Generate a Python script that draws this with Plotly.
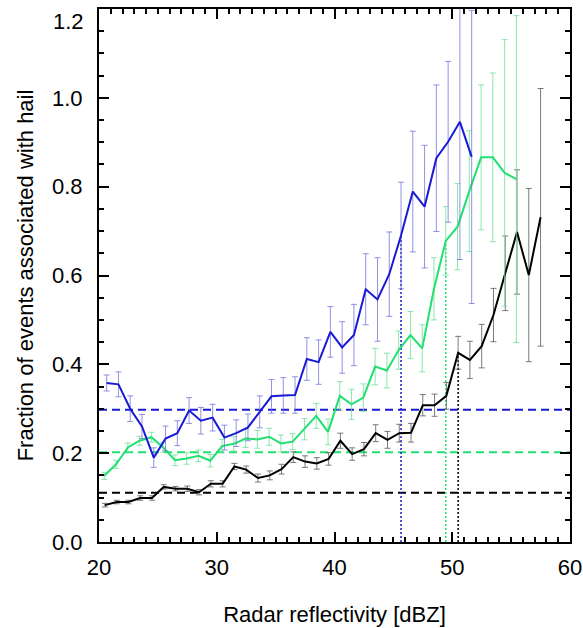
import plotly.graph_objects as go

# ---- data ----
x_black = [20.5, 21.5, 22.5, 23.5, 24.5, 25.5, 26.5, 27.5, 28.5, 29.5, 30.5, 31.5, 32.5, 33.5, 34.5,
           35.5, 36.5, 37.5, 38.5, 39.5, 40.5, 41.5, 42.5, 43.5, 44.5, 45.5, 46.5, 47.5, 48.5, 49.5,
           50.5, 51.5, 52.5, 53.5, 54.5, 55.5, 56.5, 57.5]
y_black = [0.083, 0.090, 0.090, 0.099, 0.099, 0.124, 0.120, 0.120, 0.112, 0.131, 0.131, 0.170, 0.163,
           0.144, 0.150, 0.164, 0.191, 0.181, 0.177, 0.187, 0.228, 0.198, 0.209, 0.245, 0.230, 0.245,
           0.246, 0.308, 0.308, 0.329, 0.426, 0.410, 0.441, 0.511, 0.605, 0.698, 0.601, 0.731]
e_black = [0.004, 0.004, 0.004, 0.005, 0.005, 0.005, 0.005, 0.006, 0.006, 0.007, 0.007, 0.007, 0.008,
           0.009, 0.010, 0.011, 0.012, 0.013, 0.013, 0.014, 0.017, 0.014, 0.015, 0.019, 0.019, 0.020,
           0.021, 0.024, 0.025, 0.030, 0.037, 0.042, 0.049, 0.060, 0.084, 0.140, 0.195, 0.290]

x_green = [20.45, 21.45, 22.45, 23.45, 24.45, 25.45, 26.45, 27.45, 28.45, 29.45, 30.45, 31.45, 32.45,
           33.45, 34.45, 35.45, 36.45, 37.45, 38.45, 39.45, 40.45, 41.45, 42.45, 43.45, 44.45, 45.45,
           46.45, 47.45, 48.45, 49.45, 50.45, 51.45, 52.45, 53.45, 54.45, 55.45]
y_green = [0.149, 0.175, 0.213, 0.228, 0.236, 0.213, 0.184, 0.188, 0.194, 0.183, 0.216, 0.221, 0.233,
           0.231, 0.237, 0.222, 0.226, 0.254, 0.284, 0.248, 0.329, 0.310, 0.325, 0.395, 0.386, 0.432,
           0.466, 0.436, 0.570, 0.678, 0.710, 0.790, 0.866, 0.866, 0.831, 0.817]
e_green = [0.008, 0.009, 0.010, 0.010, 0.011, 0.011, 0.012, 0.013, 0.013, 0.014, 0.015, 0.016, 0.020,
           0.020, 0.019, 0.019, 0.018, 0.024, 0.028, 0.029, 0.032, 0.034, 0.031, 0.041, 0.039, 0.043,
           0.053, 0.053, 0.070, 0.077, 0.097, 0.136, 0.163, 0.190, 0.300, 0.368]

x_blue = [20.65, 21.65, 22.65, 23.65, 24.65, 25.65, 26.65, 27.65, 28.65, 29.65, 30.65, 31.65, 32.65,
          33.65, 34.65, 35.65, 36.65, 37.65, 38.65, 39.65, 40.65, 41.65, 42.65, 43.65, 44.65, 45.65,
          46.65, 47.65, 48.65, 49.65, 50.65, 51.65]
y_blue = [0.358, 0.355, 0.300, 0.260, 0.190, 0.233, 0.245, 0.296, 0.273, 0.280, 0.235, 0.245, 0.258,
          0.293, 0.328, 0.330, 0.331, 0.412, 0.405, 0.473, 0.438, 0.466, 0.569, 0.546, 0.603, 0.690,
          0.789, 0.755, 0.864, 0.901, 0.946, 0.867]
e_blue = [0.018, 0.028, 0.029, 0.027, 0.022, 0.028, 0.028, 0.029, 0.030, 0.030, 0.028, 0.030, 0.030,
          0.036, 0.038, 0.040, 0.041, 0.048, 0.050, 0.057, 0.058, 0.069, 0.080, 0.094, 0.095, 0.120,
          0.136, 0.138, 0.165, 0.181, 0.310, 0.330]

# climatological reference levels (dashed)
base_blue = 0.298
base_green = 0.202
base_black = 0.111

# index of threshold crossing point (dotted verticals)
cross_blue = 25
cross_green = 29
cross_black = 30

x_ticks = [20, 30, 40, 50, 60]
y_ticks = [0.0, 0.2, 0.4, 0.6, 0.8, 1.0, 1.2]
X_RANGE = [20, 60]
Y_RANGE = [0, 1.2]

# ---- styles ----
C_BLUE = "#1a1ad6"
C_BLUE_E = "rgba(110,110,220,0.75)"
C_GREEN = "#22e070"
C_GREEN_E = "rgba(110,225,150,0.8)"
C_BLACK = "#000000"
C_BLACK_E = "rgba(90,90,90,0.8)"
FONT = "Liberation Sans, Arial, sans-serif"

fig = go.Figure()

# dashed horizontal levels
for lvl, col in [(base_blue, C_BLUE), (base_green, C_GREEN), (base_black, C_BLACK)]:
    fig.add_trace(go.Scatter(x=X_RANGE, y=[lvl, lvl], mode="lines",
                             line=dict(color=col, width=2, dash="8px,5px"),
                             hoverinfo="skip", showlegend=False))

# dotted verticals
for xs, ys, idx, col in [(x_blue, y_blue, cross_blue, C_BLUE),
                         (x_green, y_green, cross_green, C_GREEN),
                         (x_black, y_black, cross_black, C_BLACK)]:
    fig.add_trace(go.Scatter(x=[xs[idx], xs[idx]], y=[0, ys[idx]], mode="lines",
                             line=dict(color=col, width=1.5, dash="2px,2px"),
                             hoverinfo="skip", showlegend=False))

# series with error bars
for xs, ys, es, col, ecol in [(x_black, y_black, e_black, C_BLACK, C_BLACK_E),
                              (x_green, y_green, e_green, C_GREEN, C_GREEN_E),
                              (x_blue, y_blue, e_blue, C_BLUE, C_BLUE_E)]:
    fig.add_trace(go.Scatter(x=xs, y=ys, mode="lines",
                             line=dict(color=col, width=2),
                             error_y=dict(type="data", array=es, visible=True,
                                          color=ecol, thickness=1, width=3),
                             showlegend=False))

tick_common = dict(showline=True, linecolor="black", linewidth=2, mirror=False,
                   ticks="inside", ticklen=10, tickwidth=1.5, tickcolor="black",
                   showgrid=False, zeroline=False, automargin=False,
                   ticklabeloverflow="allow")

# the top label is drawn as an annotation just below its tick so it stays inside the page
y_ticktext = [f"{v:.1f}" if v < Y_RANGE[1] else "" for v in y_ticks]

fig.update_layout(
    width=583, height=628, margin=dict(l=99, r=13, t=9, b=86),
    plot_bgcolor="white", paper_bgcolor="white",
    xaxis=dict(range=X_RANGE, tickvals=x_ticks, ticktext=[str(v) for v in x_ticks],
               minor=dict(dtick=1, ticklen=5, tickwidth=1.5, tickcolor="black", ticks="inside"),
               tickfont=dict(family=FONT, size=22, color="black"),
               title=dict(text="Radar reflectivity [dBZ]", standoff=27,
                          font=dict(family=FONT, size=22, color="black")),
               ticklabelstandoff=5,
               **tick_common),
    yaxis=dict(range=Y_RANGE, tickvals=y_ticks, ticktext=y_ticktext,
               minor=dict(dtick=0.05, ticklen=5, tickwidth=1.5, tickcolor="black", ticks="inside"),
               tickfont=dict(family=FONT, size=22, color="black"),
               title=dict(text="Fraction of events associated with hail", standoff=12,
                          font=dict(family=FONT, size=22, color="black")),
               ticklabelstandoff=10,
               **tick_common),
    xaxis2=dict(range=X_RANGE, overlaying="x", side="top", tickvals=x_ticks, showticklabels=False,
                minor=dict(dtick=1, ticklen=5, tickwidth=1.5, tickcolor="black", ticks="inside"),
                **tick_common),
    yaxis2=dict(range=Y_RANGE, overlaying="y", side="right", tickvals=y_ticks, showticklabels=False,
                minor=dict(dtick=0.05, ticklen=5, tickwidth=1.5, tickcolor="black", ticks="inside"),
                **tick_common),
)
fig.add_annotation(text=f"{Y_RANGE[1]:.1f}", xref="paper", x=0, yref="y", y=Y_RANGE[1],
                   xanchor="right", yanchor="top", xshift=-13, yshift=2, showarrow=False,
                   font=dict(family=FONT, size=22, color="black"))

# invisible anchor trace so the top/right axes are drawn
fig.add_trace(go.Scatter(x=X_RANGE, y=Y_RANGE, xaxis="x2", yaxis="y2", mode="lines",
                         line=dict(width=0), hoverinfo="skip", showlegend=False, opacity=0))

fig.write_html("out.html", config={"displayModeBar": False},
               post_script="document.body.style.margin='0';")
